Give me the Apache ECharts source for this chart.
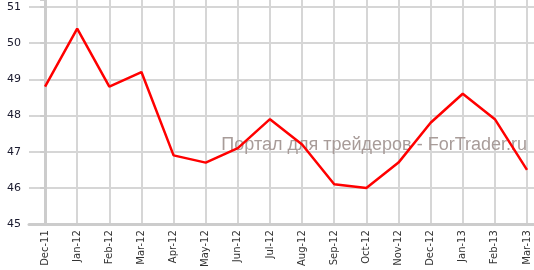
<!DOCTYPE html>
<html>
<head>
<meta charset="utf-8">
<script src="https://cdn.jsdelivr.net/npm/echarts@6/dist/echarts.min.js"></script>
<style>
html,body{margin:0;padding:0;background:#fff;}
#chart{width:534px;height:270px;}
</style>
</head>
<body>
<div id="chart"></div>
<script>
const categories = ['Dec-11','Jan-12','Feb-12','Mar-12','Apr-12','May-12','Jun-12','Jul-12','Aug-12','Sep-12','Oct-12','Nov-12','Dec-12','Jan-13','Feb-13','Mar-13'];
const values = [48.8, 50.4, 48.8, 49.2, 46.9, 46.7, 47.1, 47.9, 47.2, 46.1, 46.0, 46.7, 47.8, 48.6, 47.9, 46.5];
const yTicks = [45, 46, 47, 48, 49, 50, 51];
const watermark = 'Портал для трейдеров - ForTrader.ru';

const chart = echarts.init(document.getElementById('chart'), null, {renderer: 'canvas'});
const grid = '#d6d6d6';
const axisCol = '#cccccc';
const option = {
  animation: false,
  backgroundColor: '#ffffff',
  grid: {left: 29, right: 0, top: 0, bottom: 40, containLabel: false},
  graphic: [{
    type: 'text',
    right: 7,
    top: 136,
    z: 3,
    style: {
      text: watermark,
      font: '18px "Liberation Sans", Arial, sans-serif',
      fill: '#a89c99'
    }
  }],
  xAxis: {
    type: 'value',
    min: -0.5,
    max: 15.218,
    interval: 0.5,
    axisLine: {show: true, onZero: false, lineStyle: {color: axisCol, width: 3}},
    axisTick: {show: false},
    splitLine: {show: true, lineStyle: {color: ['rgba(0,0,0,0)', grid], width: 2}},
    axisLabel: {
      rotate: 90,
      margin: 6,
      fontFamily: 'DejaVu Sans',
      fontSize: 10,
      color: '#333333',
      showMinLabel: true,
      showMaxLabel: true,
      hideOverlap: false,
      formatter: function (v) {
        const i = Math.round(v);
        return (Math.abs(v - i) < 1e-6 && i >= 0 && i < categories.length) ? categories[i] : '';
      }
    }
  },
  yAxis: {
    type: 'value',
    min: yTicks[0],
    max: 51.19,
    interval: 1,
    axisLine: {show: true, lineStyle: {color: axisCol, width: 3}},
    axisTick: {show: true, length: 5, lineStyle: {color: axisCol, width: 2}},
    splitLine: {show: true, lineStyle: {color: yTicks.map(() => grid).concat(['rgba(0,0,0,0)']), width: 2}},
    axisLabel: {
      margin: 8,
      fontFamily: 'DejaVu Sans',
      fontSize: 11,
      color: '#1a1a2e',
      formatter: function (v) {
        return yTicks.indexOf(Math.round(v)) >= 0 && Math.abs(v - Math.round(v)) < 1e-6 ? String(Math.round(v)) : '';
      }
    }
  },
  series: [{
    type: 'line',
    data: values.map((v, i) => [i, v]),
    symbol: 'none',
    z: 5,
    lineStyle: {color: '#ff0000', width: 2.5},
    itemStyle: {color: '#ff0000'}
  }]
};
chart.setOption(option);
</script>
</body>
</html>
